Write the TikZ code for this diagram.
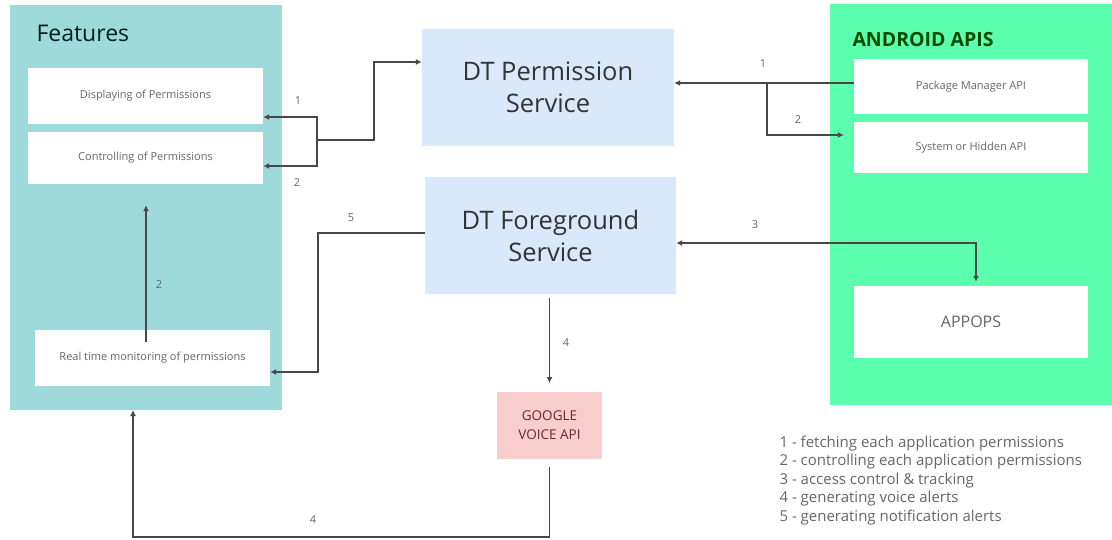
\documentclass[tikz,border=0pt]{standalone}
\usepackage{fontspec}
\setmainfont{Open Sans}
\usetikzlibrary{arrows.meta}

\definecolor{featbg}{HTML}{9EDADA}
\definecolor{servbg}{HTML}{DAE8FC}
\definecolor{apibg}{HTML}{5CFFAD}
\definecolor{voicebg}{HTML}{F8CECC}
\definecolor{linegray}{HTML}{484848}
\definecolor{textgray}{HTML}{666666}

\begin{document}
\begin{tikzpicture}[
          x=1pt, y=-1pt,
          group/.style={
            rectangle,
            inner sep=0pt,
            outer sep=0pt,
          },
          item/.style={
            rectangle,
            fill=white,
            inner sep=0pt,
            text=textgray,
            font=\fontsize{11}{13}\selectfont,
            minimum width=235pt,
          },
          service/.style={
            rectangle,
            fill=servbg,
            inner sep=0pt,
            text=black!80,
            align=center,
            font=\fontsize{25.5}{32}\selectfont,
            minimum width=252pt,
            minimum height=117pt,
          },
          link/.style={
            draw=linegray,
            line width=1.6pt,
            -{Latex[length=6pt,width=6pt]},
          },
          num/.style={
            text=textgray,
            font=\fontsize{11}{13}\selectfont,
          },
        ]
          \useasboundingbox (0,0) rectangle (1112,539);

          % left group
          \node[group, fill=featbg, minimum width=272pt, minimum height=405pt] (features) at (146,207.5) {};
          \node[anchor=west, text=black!75!teal, font=\fontsize{23}{26}\selectfont] (featurestitle) at (33,33) {Features};
          \node[item, minimum height=56pt] (disp) at (145.5,96) {Displaying of Permissions};
          \node[item, minimum height=52pt] (ctrl) at (145.5,158) {Controlling of Permissions};
          \node[item, minimum height=56pt] (realtime) at (152.5,358) {Real time monitoring of permissions};

          % services
          \node[service] (dtperm) at (548,87.5) {DT Permission\\Service};
          \node[service, minimum width=251pt] (dtfg) at (550.5,235.5) {DT Foreground\\Service};
          \node[group, fill=voicebg, minimum width=105pt, minimum height=67pt, align=center,
                text=black!60!red!70!gray, font=\fontsize{13.5}{19}\selectfont] (google) at (549.5,425.5) {GOOGLE\\VOICE API};

          % right group
          \node[group, fill=apibg, minimum width=282pt, minimum height=401pt] (android) at (971,204.5) {};
          \node[anchor=west, text=black!70!green, font=\bfseries\fontsize{19.5}{22}\selectfont] (androidtitle) at (849,40) {ANDROID APIS};
          \node[item, minimum width=234pt, minimum height=55pt] (pkg) at (971,86.5) {Package Manager API};
          \node[item, minimum width=234pt, minimum height=51pt] (sys) at (971,147.5) {System or Hidden API};
          \node[item, minimum width=234pt, minimum height=72pt, font=\fontsize{16}{18}\selectfont] (appops) at (971,322) {APPOPS};

          % legend
          \node[anchor=north west, align=left, text=textgray, font=\fontsize{15}{18.5}\selectfont] (legend) at (776,432) {%
            1 - fetching each application permissions\\
            2 - controlling each application permissions\\
            3 - access control \& tracking\\
            4 - generating voice alerts\\
            5 - generating notification alerts};

          % connectors
          \coordinate (fork) at (317,140);
          \coordinate (split) at (767,83);
          \coordinate (rtstart) at (146,342);

          \draw[link] (fork) -- (374,140) |- (dtperm.west |- 0,62);
          \draw[link] (fork) |- (disp.east |- 0,117);
          \draw[link] (fork) |- (ctrl.east |- 0,166);

          \draw[link] (pkg.west |- 0,83) -- (dtperm.east |- 0,83);
          \draw[link] (split) |- ([xshift=-10pt]sys.west |- 0,135);

          \draw[link, {Latex[length=6pt,width=6pt]}-{Latex[length=6pt,width=6pt]}]
              (dtfg.east |- 0,243) -| ([yshift=4pt]976,0 |- appops.north);
          \draw[link] (dtfg.west |- 0,233) -| (318,372) -- (realtime.east |- 0,372);
          \draw[link, shorten <=4pt, shorten >=9pt] (google.north |- dtfg.south) -- (google.north);
          \draw[link, shorten <=8pt] (google.south) -- ++(0,78) -| (features.south -| 133,0);
          \draw[link] (rtstart) -- ([yshift=-21pt]ctrl.south -| rtstart);

          % numbers
          \node[num] (n1a) at (298,101) {1};
          \node[num] (n2a) at (297,183) {2};
          \node[num] (n1b) at (763,64) {1};
          \node[num] (n2b) at (798,120) {2};
          \node[num] (n3) at (755,225) {3};
          \node[num] (n5) at (351,218) {5};
          \node[num] (n4a) at (566,343) {4};
          \node[num] (n4b) at (313,520) {4};
          \node[num] (n2c) at (159,285) {2};
        \end{tikzpicture}
\end{document}
